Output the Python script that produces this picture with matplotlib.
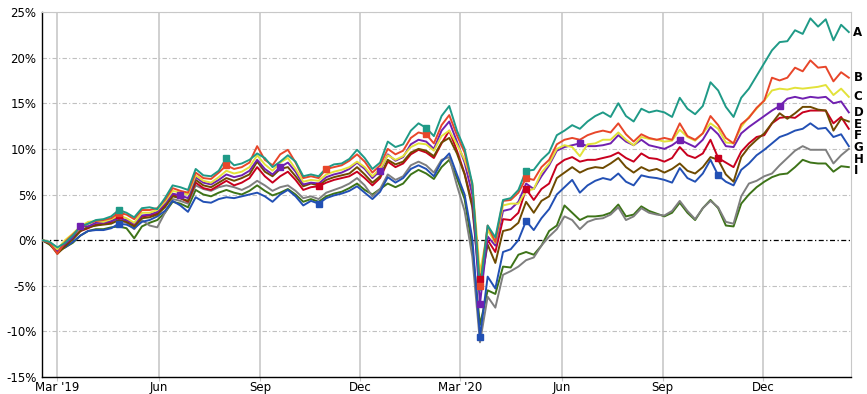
import numpy as np
import pandas as pd
import matplotlib.pyplot as plt
import matplotlib.transforms as mtransforms

# weekly points, Feb 2019 - Feb 2021 (cumulative return, %)
dates = pd.date_range('2019-02-15', '2021-02-17', periods=106)

series_a = [0, -0.2, -0.8, -0.3, 0.5, 1.5, 1.8, 2.2, 2.3, 2.6, 3.3, 3.0, 2.5, 3.5, 3.6,
            3.4, 4.6, 6.0, 5.8, 5.5, 7.8, 7.1, 7.0, 7.6, 9.0, 8.2, 8.4, 8.8, 9.5, 9.0,
            8.0, 8.6, 9.3, 8.6, 7.0, 7.2, 7.0, 7.9, 8.3, 8.4, 8.9, 9.9, 9.0, 7.8, 8.5,
            10.8, 10.2, 10.5, 12.0, 12.8, 12.3, 11.4, 13.6, 14.7, 12.0, 10.0, 6.2, -5.5, 1.6, 0.3,
            4.4, 4.6, 5.5, 7.6, 7.7, 8.8, 9.6, 11.5, 12.0, 12.6, 12.2, 13.0, 13.6, 14.0, 13.5,
            15.0, 13.6, 13.0, 14.4, 14.0, 14.2, 14.0, 13.5, 15.6, 14.4, 13.8, 14.7, 17.3, 16.4, 14.6,
            13.5, 15.6, 16.6, 18.0, 19.4, 20.8, 21.7, 21.8, 23.0, 22.6, 24.3, 23.4, 24.2, 21.9, 23.6, 22.8]
series_b = [0, -0.3, -1.5, -0.2, 0.6, 1.4, 1.8, 2.1, 2.2, 2.4, 3.0, 2.8, 2.3, 3.3, 3.3,
            3.5, 4.4, 5.7, 5.4, 5.2, 7.4, 6.8, 6.7, 7.4, 8.2, 7.8, 8.0, 8.5, 10.3, 8.8,
            8.2, 9.4, 9.9, 8.5, 6.8, 7.0, 6.8, 7.8, 8.0, 8.2, 8.7, 9.4, 8.6, 7.4, 8.2,
            10.0, 9.4, 9.8, 11.2, 11.8, 11.6, 10.6, 12.6, 13.7, 11.5, 9.6, 6.0, -5.0, 1.6, -0.2,
            4.3, 4.4, 5.2, 6.8, 6.6, 8.0, 8.8, 10.5, 11.0, 11.2, 11.0, 11.5, 11.8, 12.0, 11.8,
            12.8, 11.6, 10.8, 11.6, 11.2, 11.0, 11.2, 11.0, 12.8, 11.4, 11.0, 11.7, 13.6, 12.6, 11.2,
            10.6, 12.7, 13.4, 14.5, 15.3, 17.8, 17.5, 17.8, 18.9, 18.5, 19.7, 18.9, 19.0, 17.4, 18.4, 17.8]
series_c = [0, -0.2, -1.0, 0.0, 0.7, 1.5, 2.0, 2.1, 2.0, 2.3, 2.7, 2.4, 1.9, 3.0, 3.0,
            3.3, 4.2, 5.4, 5.2, 5.0, 7.1, 6.5, 6.3, 6.9, 7.6, 7.3, 7.5, 8.0, 9.3, 8.3,
            7.6, 8.5, 9.0, 7.8, 6.4, 6.6, 6.5, 7.2, 7.5, 7.7, 8.0, 8.6, 8.0, 7.0, 7.8,
            9.3, 8.8, 9.2, 10.2, 10.6, 10.5, 9.8, 11.4, 12.0, 10.5, 8.8, 6.3, -3.6, 1.1, -0.3,
            3.8, 4.0, 4.0, 5.4, 5.6, 7.4, 8.4, 10.0, 10.4, 10.2, 9.2, 10.5, 10.6, 11.0, 11.0,
            11.8, 11.0, 10.4, 11.3, 11.1, 11.0, 10.8, 10.9, 12.1, 11.3, 10.9, 11.7, 12.8, 12.2, 10.7,
            10.6, 12.4, 13.5, 14.4, 15.3, 16.4, 16.6, 16.5, 16.7, 16.6, 16.7, 16.8, 17.0, 15.9, 16.6, 15.7]
series_d = [0, -0.3, -1.2, -0.4, 0.3, 1.6, 1.5, 1.9, 1.9, 2.1, 2.4, 2.2, 1.8, 2.7, 2.8,
            3.1, 4.0, 5.1, 4.9, 4.6, 6.9, 6.3, 6.1, 6.6, 7.2, 6.9, 7.1, 7.6, 8.8, 7.8,
            7.2, 8.0, 8.5, 7.5, 6.1, 6.3, 6.2, 6.9, 7.2, 7.4, 7.8, 8.5, 7.8, 6.8, 7.6,
            9.4, 8.7, 9.1, 10.5, 11.0, 10.8, 10.0, 12.0, 13.0, 10.8, 8.5, 5.0, -7.0, 0.4, -0.6,
            3.2, 3.4, 4.2, 6.2, 5.6, 7.0, 8.2, 9.8, 10.2, 10.4, 10.6, 10.3, 10.3, 10.4, 10.6,
            11.5, 10.8, 10.4, 11.0, 10.4, 10.2, 10.0, 10.4, 11.0, 10.6, 10.2, 11.0, 12.4, 11.6, 10.3,
            10.2, 11.7, 12.4, 13.0, 13.6, 14.2, 14.7, 15.5, 15.7, 15.5, 15.7, 15.6, 15.7, 15.0, 15.2, 14.0]
series_e = [0, -0.4, -1.5, -0.7, 0.1, 1.0, 1.4, 1.6, 1.7, 1.8, 2.2, 2.0, 1.5, 2.4, 2.5,
            2.8, 3.6, 4.8, 4.6, 4.3, 6.6, 6.0, 5.8, 6.3, 6.8, 6.5, 6.8, 7.2, 8.6, 7.5,
            7.0, 7.8, 8.0, 7.0, 5.9, 6.2, 6.0, 6.6, 6.9, 7.1, 7.3, 8.0, 7.2, 6.3, 7.0,
            8.8, 8.3, 8.6, 9.6, 10.0, 9.8, 9.2, 10.7, 11.2, 9.5, 7.2, 3.6, -5.2, -0.5, -2.5,
            1.0, 1.2, 1.9, 4.2, 3.0, 4.3, 4.8, 6.8, 7.4, 8.0, 7.4, 7.8, 8.0, 7.9, 8.4,
            9.0, 8.0, 7.4, 8.0, 7.6, 7.8, 7.4, 7.8, 8.4, 7.6, 7.3, 8.0, 9.1, 8.8, 7.2,
            6.4, 9.1, 10.2, 11.0, 11.7, 12.8, 13.9, 13.3, 13.9, 14.6, 14.6, 14.3, 14.2, 12.0, 13.3, 13.0]
series_f = [0, -0.3, -1.3, -0.5, 0.2, 1.0, 1.3, 1.7, 1.8, 2.0, 2.7, 2.0, 1.6, 2.6, 2.7,
            2.9, 3.8, 5.0, 4.6, 4.2, 6.3, 5.7, 5.5, 6.0, 6.5, 6.0, 6.3, 6.8, 8.0, 7.0,
            6.3, 7.0, 7.5, 6.6, 5.5, 5.8, 5.9, 6.3, 6.6, 6.8, 7.0, 7.5, 6.8, 6.0, 6.8,
            8.6, 8.0, 8.4, 9.4, 9.9, 9.6, 9.0, 10.6, 12.0, 9.8, 7.3, 4.0, -4.3, 0.0, -1.3,
            2.3, 2.2, 3.0, 5.6, 4.4, 5.6, 6.2, 8.2, 8.8, 9.1, 8.6, 8.8, 8.8, 9.0, 9.2,
            9.6, 9.0, 8.6, 9.5, 9.0, 8.9, 8.6, 9.0, 10.2, 9.3, 9.0, 9.5, 11.0, 9.0, 8.5,
            8.0, 9.7, 10.6, 11.3, 11.5, 12.8, 13.4, 13.5, 13.4, 14.0, 14.2, 14.2, 14.2, 12.8, 13.5, 12.2]
series_g = [0, -0.3, -1.0, -0.8, -0.2, 0.5, 1.0, 1.1, 1.1, 1.3, 1.8, 1.7, 1.3, 2.0, 2.2,
            2.6, 3.2, 4.3, 3.8, 3.1, 4.7, 4.2, 4.1, 4.5, 4.7, 4.6, 4.8, 5.0, 5.2, 4.8,
            4.2, 5.0, 5.5, 4.8, 3.8, 4.3, 4.0, 4.6, 4.9, 5.1, 5.4, 5.9, 5.2, 4.5, 5.3,
            6.9, 6.3, 6.8, 7.8, 8.2, 7.8, 7.0, 8.6, 9.5, 7.2, 5.0, 0.2, -10.6, -4.0, -5.3,
            -1.3, -1.0, 0.0, 2.1, 1.1, 2.4, 3.4, 5.0, 5.8, 6.6, 5.2, 6.0, 6.5, 6.8, 6.6,
            7.3, 6.4, 6.0, 7.1, 6.9, 6.8, 6.6, 6.3, 7.9, 6.8, 6.4, 7.3, 8.8, 7.1, 6.4,
            6.0, 7.7, 8.4, 9.3, 9.9, 10.6, 11.3, 11.6, 12.0, 12.2, 12.8, 12.2, 12.3, 11.3, 11.6, 10.3]
series_h = [0, -0.2, -0.9, -0.5, 0.1, 1.0, 1.5, 1.6, 1.8, 2.0, 2.2, 1.9, 1.2, 2.2, 1.6,
            1.4, 3.0, 4.5, 4.3, 4.0, 6.0, 5.6, 5.4, 5.8, 6.0, 5.8, 5.5, 5.9, 6.5, 6.0,
            5.4, 5.8, 6.0, 5.4, 4.6, 4.8, 4.5, 5.2, 5.5, 5.8, 6.2, 6.8, 6.0, 4.8, 5.6,
            7.2, 6.6, 7.0, 8.2, 8.6, 8.2, 7.4, 8.8, 9.1, 6.0, 3.2, -1.8, -11.2, -6.2, -7.4,
            -3.8, -3.4, -2.9, -2.2, -1.9, -0.6, 0.4, 1.2, 2.6, 2.2, 1.2, 2.0, 2.3, 2.4, 2.8,
            3.6, 2.2, 2.6, 3.5, 3.0, 2.8, 2.7, 3.2, 4.3, 3.2, 2.3, 3.5, 4.3, 3.6, 2.0,
            1.8, 4.8, 6.2, 6.5, 7.0, 7.3, 8.2, 9.0, 9.8, 10.3, 9.9, 9.9, 9.9, 8.4, 9.3, 10.0]
series_i = [0, -0.5, -1.3, -0.8, -0.3, 0.5, 1.0, 1.2, 1.2, 1.4, 1.5, 1.3, 0.2, 1.5, 1.9,
            2.2, 3.0, 4.2, 4.0, 3.6, 5.5, 5.0, 4.8, 5.2, 5.5, 5.2, 5.0, 5.4, 6.0, 5.4,
            4.9, 5.2, 5.6, 5.0, 4.2, 4.5, 4.2, 4.8, 5.1, 5.3, 5.7, 6.2, 5.5, 5.0, 5.6,
            6.2, 5.8, 6.2, 7.2, 7.7, 7.3, 6.7, 8.0, 8.8, 6.8, 4.5, -0.8, -9.3, -5.5, -5.9,
            -2.9, -3.0, -1.6, -1.3, -1.6, -0.6, 1.0, 1.6, 3.8, 3.0, 2.2, 2.6, 2.6, 2.7, 3.0,
            3.9, 2.6, 2.8, 3.7, 3.2, 2.9, 2.6, 3.0, 4.1, 3.0, 2.2, 3.5, 4.4, 3.5, 1.6,
            1.5, 4.0, 5.0, 5.8, 6.4, 6.9, 7.2, 7.3, 8.0, 8.8, 8.5, 8.4, 8.4, 7.5, 8.1, 8.0]

labels = ['A', 'B', 'C', 'D', 'E', 'F', 'G', 'H', 'I']
all_series = [series_a, series_b, series_c, series_d, series_e,
              series_f, series_g, series_h, series_i]
colors = ['#1f9a87', '#e8462a', '#e2e23a', '#7020b0', '#6e4a00',
          '#c8001e', '#2250b4', '#7f7f7f', '#3d7318']

# week indexes where a square marker sits on the line
marker_idx = {
    'A': [10, 24, 50, 63],
    'B': [10, 24, 37, 50, 57, 63],
    'D': [5, 18, 31, 44, 57, 70, 83, 96],
    'F': [10, 36, 57, 63, 88],
    'G': [10, 36, 57, 63, 88],
}

tick_dates = pd.to_datetime(['2019-03-01', '2019-06-01', '2019-09-01', '2019-12-01',
                             '2020-03-01', '2020-06-01', '2020-09-01', '2020-12-01'])
tick_labels = ["Mar '19", 'Jun', 'Sep', 'Dec', "Mar '20", 'Jun', 'Sep', 'Dec']
y_ticks = [-15, -10, -5, 0, 5, 10, 15, 20, 25]

fig = plt.figure(figsize=(8.67, 3.94), dpi=100)
ax = fig.add_axes([42 / 867, 1 - 377 / 394, (851 - 42) / 867, (377 - 12) / 394])

# grid
for d in tick_dates:
    ax.axvline(d, color='#c8c8c8', lw=1.2, zorder=1)
for v in y_ticks:
    if v != 0:
        ax.axhline(v, color='#c0c0c0', lw=0.8, ls=(0, (4, 2, 1, 2)), zorder=1)
ax.axhline(0, color='black', lw=0.9, ls=(0, (4, 2, 1, 2)), zorder=2)

# lines, drawn bottom label first so A sits on top
for lab, s, c in reversed(list(zip(labels, all_series, colors))):
    vals = np.array(s)
    ax.plot(dates, vals, color=c, lw=1.4, zorder=3)
    if lab in marker_idx:
        idx = marker_idx[lab]
        ax.plot(dates[idx], vals[idx], ls='none', marker='s', ms=5,
                color=c, zorder=4)

# end labels, pushed down so they do not overlap
trans = mtransforms.blended_transform_factory(ax.transAxes, ax.transData)
ends = sorted([(s[-1], lab) for lab, s in zip(labels, all_series)], reverse=True)
prev = None
for val, lab in ends:
    y = val if prev is None else min(val, prev - 1.28)
    ax.text(1.003, y, lab, transform=trans, fontsize=8.5, fontweight='bold',
            va='center', ha='left', clip_on=False)
    prev = y

ax.set_xlim(pd.Timestamp('2019-02-15'), pd.Timestamp('2021-02-19'))
ax.set_ylim(-15, 25)
ax.set_xticks(tick_dates)
ax.set_xticklabels(tick_labels)
ax.set_yticks(y_ticks)
ax.set_yticklabels([f'{v}%' for v in y_ticks])
ax.tick_params(axis='x', length=3, color='#c8c8c8', labelsize=8.5, pad=0)
ax.tick_params(axis='y', length=0, labelsize=8.5, pad=4)

for side in ['top', 'right']:
    ax.spines[side].set_color('#c8c8c8')
for side in ['left', 'bottom']:
    ax.spines[side].set_color('black')
    ax.spines[side].set_linewidth(1.0)

fig.savefig('out.png', dpi=100)
